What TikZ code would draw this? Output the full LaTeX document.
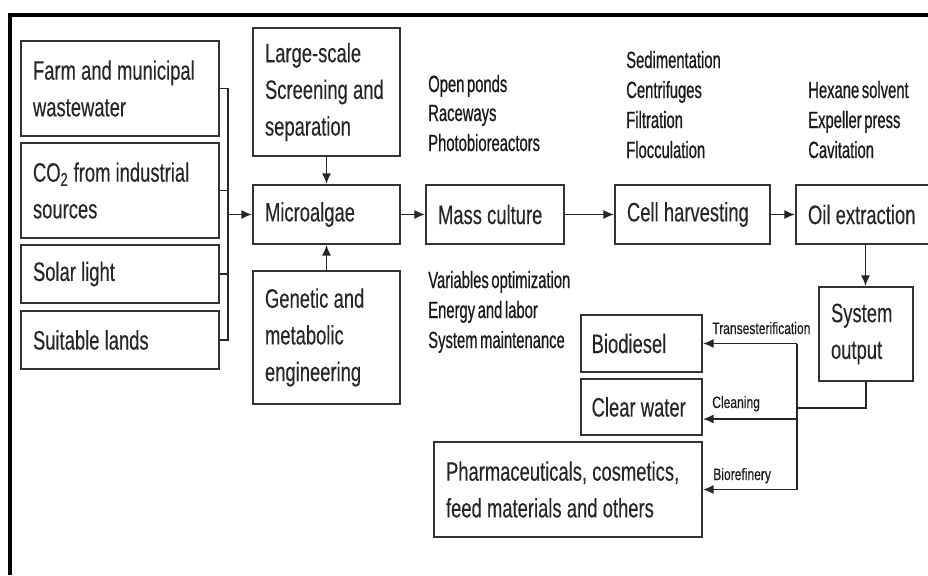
\documentclass[tikz,border=0pt]{standalone}
\usepackage{fontspec}
\setmainfont[FakeStretch=0.69,WordSpace=0.69,FakeBold=0.2]{Liberation Sans}
\newfontfamily\listfont[FakeStretch=0.63,WordSpace=0.63,FakeBold=0.6]{Liberation Sans}
\newfontfamily\lblfont[FakeStretch=0.73,WordSpace=0.73,FakeBold=0.4]{Liberation Sans}
\usetikzlibrary{arrows.meta}
\begin{document}
\begin{tikzpicture}[x=0.75pt,y=-0.75pt,
  box/.style={draw=black!80, line width=1.5pt, fill=white, inner xsep=9pt, inner ysep=0pt,
    align=left, font=\fontsize{20}{27.5}\selectfont, text=black!85,
    execute at begin node={\spaceskip=3.9pt plus 1pt minus 0.5pt\relax}},
  conn/.style={draw=black!85, line width=1.3pt},
  arr/.style={conn, -{Latex[length=8pt,width=7pt]}},
  listtxt/.style={anchor=base west, inner sep=0pt, font=\listfont\fontsize{17.6}{22.5}\selectfont, text=black!90},
  lbl/.style={anchor=base west, inner sep=0pt, font=\lblfont\fontsize{12.4}{14}\selectfont, text=black!90}]
\useasboundingbox (0,0) rectangle (928,575);
% outer frame
\draw[line width=2.3pt] (10,575) -- (10,15) -- (928,15);
% boxes
\node[box, minimum width=148.5pt, minimum height=71.25pt, text width=130.5pt] (farm) at (120,88.5) {Farm and municipal\\wastewater};
\node[box, minimum width=148.5pt, minimum height=71.25pt, text width=130.5pt] (co2) at (120,190.5) {CO\textsubscript{2} from industrial\\sources};
\node[box, minimum width=148.5pt, minimum height=43.5pt, text width=130.5pt] (solar) at (120,274) {Solar light};
\node[box, minimum width=148.5pt, minimum height=43.5pt, text width=130.5pt] (lands) at (120,340) {Suitable lands};
\node[box, minimum width=110.25pt, minimum height=96pt, text width=92.25pt] (large) at (326.5,92) {Large-scale\\Screening and\\separation};
\node[box, minimum width=110.25pt, minimum height=44.25pt, text width=92.25pt] (micro) at (326.5,214.5) {Microalgae};
\node[box, minimum width=110.25pt, minimum height=99.75pt, text width=92.25pt] (genetic) at (326.5,337.5) {Genetic and\\metabolic\\engineering};
\node[box, minimum width=103.5pt, minimum height=44.25pt, text width=85.5pt] (mass) at (495,214.5) {Mass culture};
\node[box, minimum width=116.25pt, minimum height=44.25pt, text width=98.25pt] (cell) at (692.5,214.5) {Cell harvesting};
\node[box, minimum width=104.25pt, minimum height=44.25pt, text width=86.25pt] (oil) at (865.5,214.5) {Oil extraction};
\node[box, minimum width=70.5pt, minimum height=70.5pt, text width=52.5pt] (sysout) at (866,334) {System\\output};
\node[box, minimum width=90.75pt, minimum height=42.75pt, text width=74.75pt, inner xsep=8pt] (bio) at (641.5,343.5) {Biodiesel};
\node[box, minimum width=90.75pt, minimum height=42pt, text width=74.75pt, inner xsep=8pt] (clear) at (641.5,407) {Clear water};
\node[box, minimum width=201pt, minimum height=71.25pt, text width=183pt] (pharma) at (568,489.5) {Pharmaceuticals, cosmetics,\\feed materials and others};
% list texts
\node[listtxt] (op1) at (428,92) {Open ponds};
\node[listtxt] (op2) at (428,121) {Raceways};
\node[listtxt] (op3) at (428,151) {Photobioreactors};
\node[listtxt] (se1) at (626,68) {Sedimentation};
\node[listtxt] (se2) at (626,98) {Centrifuges};
\node[listtxt] (se3) at (626,128) {Filtration};
\node[listtxt] (se4) at (626,158) {Flocculation};
\node[listtxt] (hx1) at (808,98) {Hexane solvent};
\node[listtxt] (hx2) at (808,128) {Expeller press};
\node[listtxt] (hx3) at (808,158) {Cavitation};
\node[listtxt] (va1) at (428,288) {Variables optimization};
\node[listtxt] (va2) at (428,318) {Energy and labor};
\node[listtxt] (va3) at (428,348) {System maintenance};
% connector labels
\node[lbl] (ltr) at (712,334) {Transesterification};
\node[lbl] (lcl) at (712,408) {Cleaning};
\node[lbl] (lbr) at (713,480) {Biorefinery};
% helper coordinates
\coordinate (bx) at (228,0);
\coordinate (vx) at (797,0);
\coordinate (hy) at (0,408);
\coordinate (cy) at (0,419);
% input bracket
\draw[conn] (farm.east) -- (farm.east -| bx) -- (lands.east -| bx) -- (lands.east);
\draw[conn] (co2.east) -- (co2.east -| bx);
\draw[conn] (solar.east) -- (solar.east -| bx);
\draw[arr] (micro.west -| bx) -- (micro.west);
% main chain
\draw[arr] (large.south) -- (micro.north);
\draw[arr] (genetic.north) -- (micro.south);
\draw[arr] (micro.east) -- (mass.west);
\draw[arr] (mass.east) -- (cell.west);
\draw[arr] (cell.east) -- (oil.west);
\draw[arr] (oil.south) -- (oil.south |- sysout.north);
% outputs
\draw[conn] (sysout.south) -- (sysout.south |- hy) -- (hy -| vx);
\draw[conn] (bio.east -| vx) -- (pharma.east -| vx);
\draw[arr] (bio.east -| vx) -- (bio.east);
\draw[arr] (cy -| vx) -- (cy -| clear.east);
\draw[arr] (pharma.east -| vx) -- (pharma.east);
\end{tikzpicture}
\end{document}
